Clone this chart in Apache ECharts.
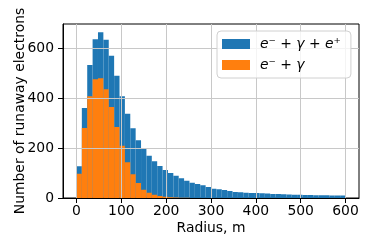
<!DOCTYPE html>
<html>
<head>
<meta charset="utf-8">
<script src="https://cdn.jsdelivr.net/npm/echarts@6/dist/echarts.min.js"></script>
<style>html,body{margin:0;padding:0;background:#fff}#c{width:374px;height:249px}</style>
</head>
<body>
<div id="c"></div>
<script>
// ---- data ----
const binWidth = 12;
const totalCounts = [127,360,532,635,663,633,569,489,407,337,279,231,197,169,147,128,112,100,89,79,69,61,56,51,44,37,35,32,28,24,23,21,20,20,19,18,16,16,15,14,13,13,12,12,11,11,11,10,10,10];
const partialCounts = [97,280,407,475,479,435,364,284,209,143,95,60,33,21,13,8,5,3,2,1,1,0,0,0,0,0,0,0,0,0,0,0,0,0,0,0,0,0,0,0,0,0,0,0,0,0,0,0,0,0];
const xTicks = [0,100,200,300,400,500,600];
const yTicks = [0,200,400,600];
const seriesNames = ['total', 'partial'];
const legendLabels = ['{i|e}\u207B + {i|\u03B3} + {i|e}\u207A', '{i|e}\u207B + {i|\u03B3}'];
const xLabel = 'Radius, m';
const yLabel = 'Number of runaway electrons';

const FONT = 'DejaVu Sans';
const FS = 13.9;

function toBins(counts){
  return counts.map((v,i)=>[i*binWidth, (i+1)*binWidth, v]);
}
function renderBar(params, api){
  const p0 = api.coord([api.value(0), 0]);
  const p1 = api.coord([api.value(1), api.value(2)]);
  return {type:'rect', shape:{x:p0[0], y:p1[1], width:p1[0]-p0[0], height:p0[1]-p1[1]}, style: api.style()};
}

const chart = echarts.init(document.getElementById('c'), null, {renderer:'canvas'});
chart.setOption({
  animation:false,
  backgroundColor:'#fff',
  textStyle:{fontFamily:FONT, color:'#000'},
  grid:[
    {left:63, top:24, width:296, height:174, show:true, borderColor:'#000', borderWidth:1, backgroundColor:'transparent', containLabel:false, outerBoundsMode:'none'},
    {left:76.5, top:24, width:269, height:174, containLabel:false, outerBoundsMode:'none'}
  ],
  legend:{
    orient:'vertical', left:217, top:31,
    data: seriesNames,
    icon:'rect', itemWidth:28, itemHeight:10, itemGap:7,
    padding:[6,10,6,5],
    backgroundColor:'rgba(255,255,255,0.8)', borderColor:'#d0d0d0', borderWidth:1, borderRadius:4,
    formatter: function(name){ return legendLabels[seriesNames.indexOf(name)]; },
    textStyle:{fontFamily:FONT, fontSize:FS, color:'#000', padding:[0,0,0,5], lineHeight:14,
      rich:{ i:{fontFamily:FONT, fontSize:FS, fontStyle:'italic', color:'#000', lineHeight:14} } }
  },
  xAxis:[
    {gridIndex:0, type:'value', min:-30, max:630, z:3,
      axisLine:{show:true, onZero:false, lineStyle:{color:'#000', width:1}},
      axisTick:{show:false}, axisLabel:{show:false}, splitLine:{show:false}},
    {gridIndex:1, type:'value', min:0, max:600, interval:100, z:3,
      axisLine:{show:false, onZero:false},
      axisTick:{show:true, length:5, lineStyle:{color:'#000', width:1}, customValues:xTicks},
      axisLabel:{show:true, margin:6, fontFamily:FONT, fontSize:FS, color:'#000', customValues:xTicks},
      splitLine:{show:true, lineStyle:{color:'#c8c8c8', width:1}},
      name:xLabel, nameLocation:'middle', nameGap:23, nameMoveOverlap:false,
      nameTextStyle:{fontFamily:FONT, fontSize:FS, color:'#000'}}
  ],
  yAxis:[
    {gridIndex:0, type:'value', min:0, max:696, interval:200, z:3,
      axisLine:{show:true, onZero:false, lineStyle:{color:'#000', width:1}},
      axisTick:{show:true, length:5, lineStyle:{color:'#000', width:1}, customValues:yTicks},
      axisLabel:{show:true, margin:9, fontFamily:FONT, fontSize:FS, color:'#000', customValues:yTicks},
      splitLine:{show:true, lineStyle:{color:'#c8c8c8', width:1}, customValues:yTicks},
      name:yLabel, nameLocation:'middle', nameGap:36, nameMoveOverlap:false,
      nameTextStyle:{fontFamily:FONT, fontSize:FS, color:'#000'}},
    {gridIndex:1, type:'value', min:0, max:696, show:false, axisLine:{show:false, onZero:false}}
  ],
  series:[
    {name:seriesNames[0], type:'custom', xAxisIndex:0, yAxisIndex:0, renderItem:renderBar,
      itemStyle:{color:'#1f77b4'}, encode:{x:[0,1], y:2}, data:toBins(totalCounts), z:2},
    {name:seriesNames[1], type:'custom', xAxisIndex:0, yAxisIndex:0, renderItem:renderBar,
      itemStyle:{color:'#ff7f0e'}, encode:{x:[0,1], y:2}, data:toBins(partialCounts), z:2}
  ]
});
</script>
</body>
</html>
